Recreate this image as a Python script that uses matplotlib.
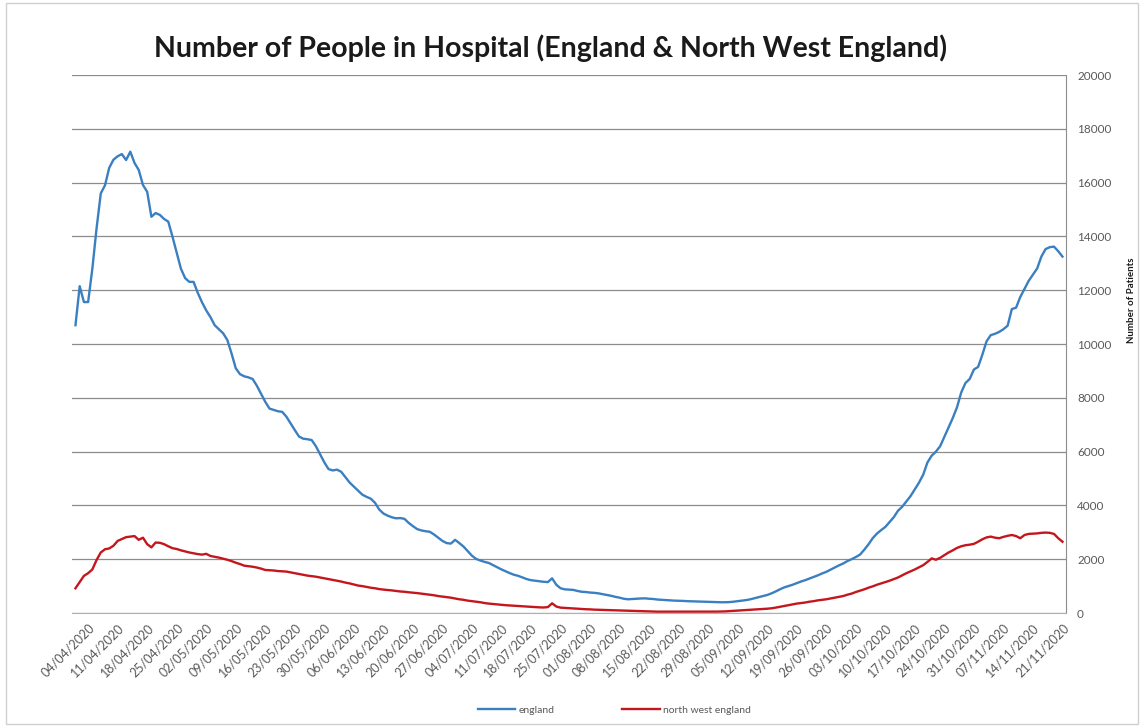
import matplotlib
matplotlib.use("Agg")
import matplotlib.pyplot as plt
import matplotlib.dates as mdates
from matplotlib.patches import Rectangle
import numpy as np
import pandas as pd

# daily patients in hospital, 01/04/2020 .. 21/11/2020 (one row per week)
start_date = "2020-04-01"

england = [
    10700, 12150, 11560, 11560, 12800, 14300, 15600,
    15900, 16550, 16850, 16980, 17060, 16840, 17150,
    16730, 16470, 15910, 15660, 14730, 14870, 14800,
    14650, 14550, 13990, 13400, 12800, 12450, 12310,
    12310, 11900, 11550, 11250, 11000, 10700, 10550,
    10400, 10150, 9650, 9100, 8880, 8800, 8760,
    8700, 8450, 8150, 7850, 7600, 7550, 7500,
    7480, 7300, 7050, 6800, 6560, 6480, 6460,
    6430, 6200, 5900, 5600, 5350, 5300, 5330,
    5250, 5050, 4850, 4700, 4550, 4400, 4320,
    4250, 4100, 3850, 3700, 3620, 3560, 3520,
    3530, 3500, 3350, 3230, 3120, 3070, 3040,
    3020, 2920, 2800, 2680, 2600, 2580, 2720,
    2600, 2470, 2300, 2130, 2010, 1950, 1900,
    1860, 1780, 1700, 1620, 1550, 1480, 1420,
    1380, 1320, 1260, 1220, 1200, 1180, 1160,
    1150, 1290, 1050, 920, 880, 870, 860,
    820, 790, 780, 760, 750, 730, 700,
    670, 640, 600, 570, 530, 510, 520,
    530, 540, 545, 530, 520, 500, 490,
    480, 470, 460, 455, 450, 440, 435,
    430, 425, 420, 415, 410, 405, 400,
    400, 405, 420, 440, 460, 480, 510,
    550, 590, 630, 670, 730, 800, 880,
    950, 1000, 1050, 1110, 1170, 1220, 1280,
    1340, 1400, 1470, 1530, 1610, 1690, 1770,
    1840, 1930, 2000, 2080, 2170, 2350, 2550,
    2780, 2950, 3080, 3200, 3380, 3560, 3800,
    3950, 4150, 4350, 4600, 4850, 5150, 5600,
    5850, 6000, 6200, 6550, 6900, 7250, 7650,
    8200, 8550, 8700, 9050, 9150, 9600, 10100,
    10330, 10380, 10450, 10550, 10680, 11300, 11350,
    11750, 12050, 12350, 12580, 12810, 13250, 13530,
    13600, 13620, 13450, 13250,
]

north_west = [
    920, 1150, 1380, 1480, 1620, 1970, 2250,
    2370, 2400, 2500, 2680, 2750, 2820, 2840,
    2860, 2720, 2800, 2560, 2440, 2620, 2610,
    2560, 2480, 2410, 2380, 2330, 2290, 2250,
    2220, 2190, 2170, 2200, 2120, 2090, 2060,
    2020, 1980, 1930, 1870, 1820, 1760, 1740,
    1720, 1690, 1650, 1600, 1590, 1580, 1560,
    1550, 1540, 1510, 1480, 1450, 1420, 1390,
    1370, 1350, 1320, 1290, 1260, 1230, 1200,
    1170, 1130, 1100, 1060, 1020, 1000, 970,
    940, 920, 890, 870, 855, 840, 820,
    800, 790, 770, 755, 740, 720, 700,
    680, 660, 630, 610, 590, 570, 540,
    510, 490, 460, 440, 420, 400, 370,
    350, 335, 320, 305, 290, 280, 270,
    260, 250, 240, 230, 220, 210, 205,
    220, 360, 240, 200, 190, 180, 170,
    160, 150, 140, 135, 125, 120, 115,
    110, 105, 100, 95, 90, 85, 80,
    75, 70, 65, 60, 55, 50, 50,
    50, 50, 48, 48, 48, 50, 50,
    50, 50, 52, 50, 50, 52, 55,
    60, 70, 80, 90, 100, 110, 120,
    130, 140, 150, 160, 175, 200, 230,
    260, 290, 320, 350, 370, 390, 420,
    440, 470, 490, 510, 540, 570, 600,
    630, 680, 720, 780, 830, 880, 940,
    990, 1050, 1100, 1150, 1200, 1260, 1320,
    1400, 1480, 1550, 1620, 1700, 1780, 1900,
    2030, 1980, 2050, 2150, 2250, 2330, 2420,
    2480, 2520, 2540, 2570, 2650, 2740, 2810,
    2840, 2800, 2780, 2830, 2870, 2900, 2860,
    2780, 2900, 2940, 2950, 2960, 2980, 2990,
    2980, 2940, 2780, 2650,
]

series_labels = ["england", "north west england"]
tick_start, tick_end = "2020-04-04", "2020-11-21"
y_ticks = list(range(0, 20001, 2000))

dates = pd.date_range(start_date, periods=len(england), freq="D")
tick_dates = pd.date_range(tick_start, tick_end, freq="7D")

plt.rcParams["font.family"] = ["Lato", "DejaVu Sans"]
label_grey = "#595959"
grid_grey = "#8c8c8c"

fig = plt.figure(figsize=(11.44, 7.27), dpi=100)
fig.patch.set_facecolor("white")
ax = fig.add_axes([0.0629, 0.1568, 0.8689, 0.74])

ax.plot(dates, england, color="#3a7fc1", lw=1.7, label=series_labels[0])
ax.plot(dates, north_west, color="#c4161c", lw=1.7, label=series_labels[1])

ax.set_ylim(0, 20000)
ax.set_yticks(y_ticks)
ax.yaxis.tick_right()
ax.tick_params(axis="y", length=0, pad=8, labelsize=8.5, labelcolor=label_grey)
ax.grid(axis="y", color=grid_grey, lw=0.9)
ax.set_axisbelow(True)

half_day = pd.Timedelta(hours=20)
ax.set_xlim(dates[0] - half_day, dates[-1] + half_day)
ax.set_xticks(tick_dates)
ax.xaxis.set_major_formatter(mdates.DateFormatter("%d/%m/%Y"))
ax.tick_params(axis="x", length=0, pad=6, labelsize=9, labelcolor=label_grey)
for lbl in ax.get_xticklabels():
    lbl.set_rotation(45)
    lbl.set_ha("right")
    lbl.set_rotation_mode("anchor")

for side in ["left", "top"]:
    ax.spines[side].set_visible(False)
ax.spines["right"].set_color(grid_grey)
ax.spines["bottom"].set_color("#b0b0b0")

fig.text(0.481, 0.934, "Number of People in Hospital (England & North West England)",
         ha="center", va="center", fontsize=20.5, fontweight="bold", color="#1a1a1a")
fig.text(0.989, 0.587, "Number of Patients", rotation=90, ha="center", va="center",
         fontsize=7, fontweight="bold", color="#1a1a1a")

fig.legend(loc="center", bbox_to_anchor=(0.537, 0.023), ncol=2, frameon=False,
           fontsize=7.5, handlelength=3.6, handletextpad=0.3, columnspacing=6.5,
           labelcolor=label_grey)

# light chart-area border
fig.add_artist(Rectangle((0.005, 0.004), 0.99, 0.992, transform=fig.transFigure,
                         fill=False, edgecolor="#d0d0d0", lw=1))

fig.savefig("out.png", dpi=100, facecolor="white")
